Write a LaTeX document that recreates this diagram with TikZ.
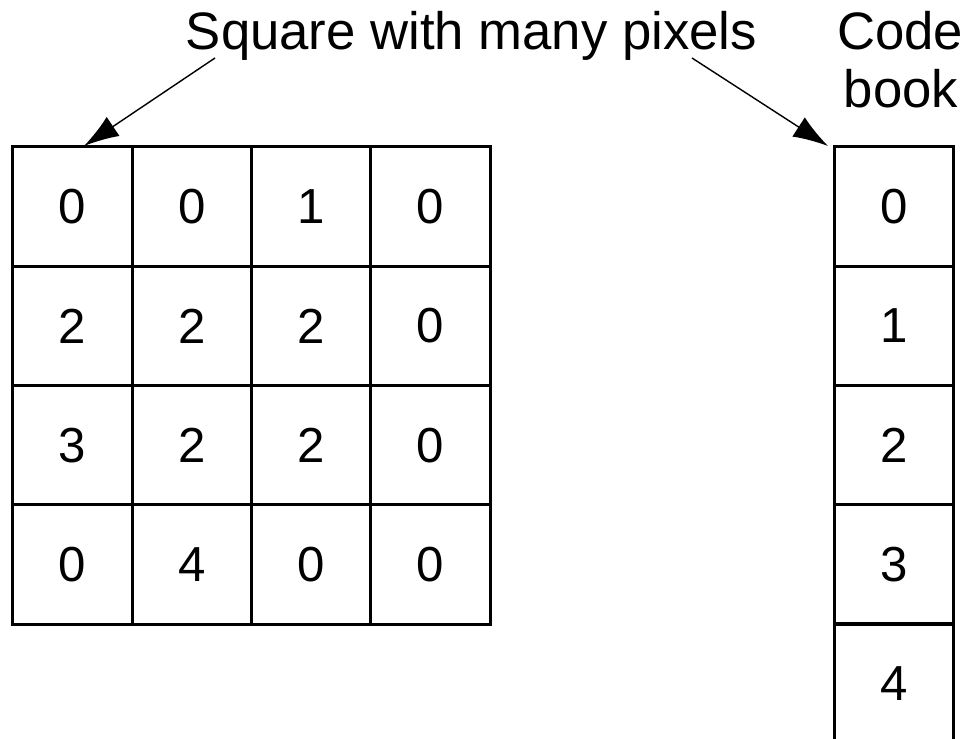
\documentclass[tikz,border=0pt]{standalone}
\usepackage{fontspec}
\setmainfont{Liberation Sans}
\usetikzlibrary{arrows.meta}
\tikzset{
  CellStyle/.style = { rectangle, draw, line width = 1.7pt,
                       minimum size = 2.385cm, inner sep = 0pt,
                       font = \fontsize{28}{28}\selectfont },
  LabelStyle/.style = { anchor = base, inner sep = 0pt,
                       font = \fontsize{30}{30}\selectfont },
  ArrowStyle/.style = { line width = 0.8pt,
                       -{Latex[length=0.7cm,width=0.46cm]} } }

\begin{document}
\begin{tikzpicture}[x=0.02cm,y=-0.02cm]
  \useasboundingbox (0,0) rectangle (974,739);

  % the square of pixels
  \node[CellStyle] (p11) at (72.6,206.6)  {0};
  \node[CellStyle] (p12) at (191.9,206.6) {0};
  \node[CellStyle] (p13) at (311.1,206.6) {1};
  \node[CellStyle] (p14) at (430.4,206.6) {0};

  \node[CellStyle] (p21) at (72.6,325.9)  {2};
  \node[CellStyle] (p22) at (191.9,325.9) {2};
  \node[CellStyle] (p23) at (311.1,325.9) {2};
  \node[CellStyle] (p24) at (430.4,325.9) {0};

  \node[CellStyle] (p31) at (72.6,445.1)  {3};
  \node[CellStyle] (p32) at (191.9,445.1) {2};
  \node[CellStyle] (p33) at (311.1,445.1) {2};
  \node[CellStyle] (p34) at (430.4,445.1) {0};

  \node[CellStyle] (p41) at (72.6,564.4)  {0};
  \node[CellStyle] (p42) at (191.9,564.4) {4};
  \node[CellStyle] (p43) at (311.1,564.4) {0};
  \node[CellStyle] (p44) at (430.4,564.4) {0};

  % the code book
  \node[CellStyle] (cb0) at (894,206.6) {0};
  \node[CellStyle] (cb1) at (894,325.9) {1};
  \node[CellStyle] (cb2) at (894,445.1) {2};
  \node[CellStyle] (cb3) at (894,564.4) {3};
  \node[CellStyle] (cb4) at (894,683.6) {4};

  % titles
  \node[LabelStyle] (square) at (471.5,50) {Square with many pixels};
  \node[LabelStyle] (code)   at (900,50)   {Code};
  \node[LabelStyle] (book)   at (901,108)  {book};

  \coordinate (sqfrom) at (215,58);
  \coordinate (cbfrom) at (692,58);
  \coordinate (sqto)   at (84,146);
  \coordinate (cbto)   at (828,146);

  \draw[ArrowStyle] (sqfrom) -- (sqto);
  \draw[ArrowStyle] (cbfrom) -- (cbto);
\end{tikzpicture}
\end{document}
